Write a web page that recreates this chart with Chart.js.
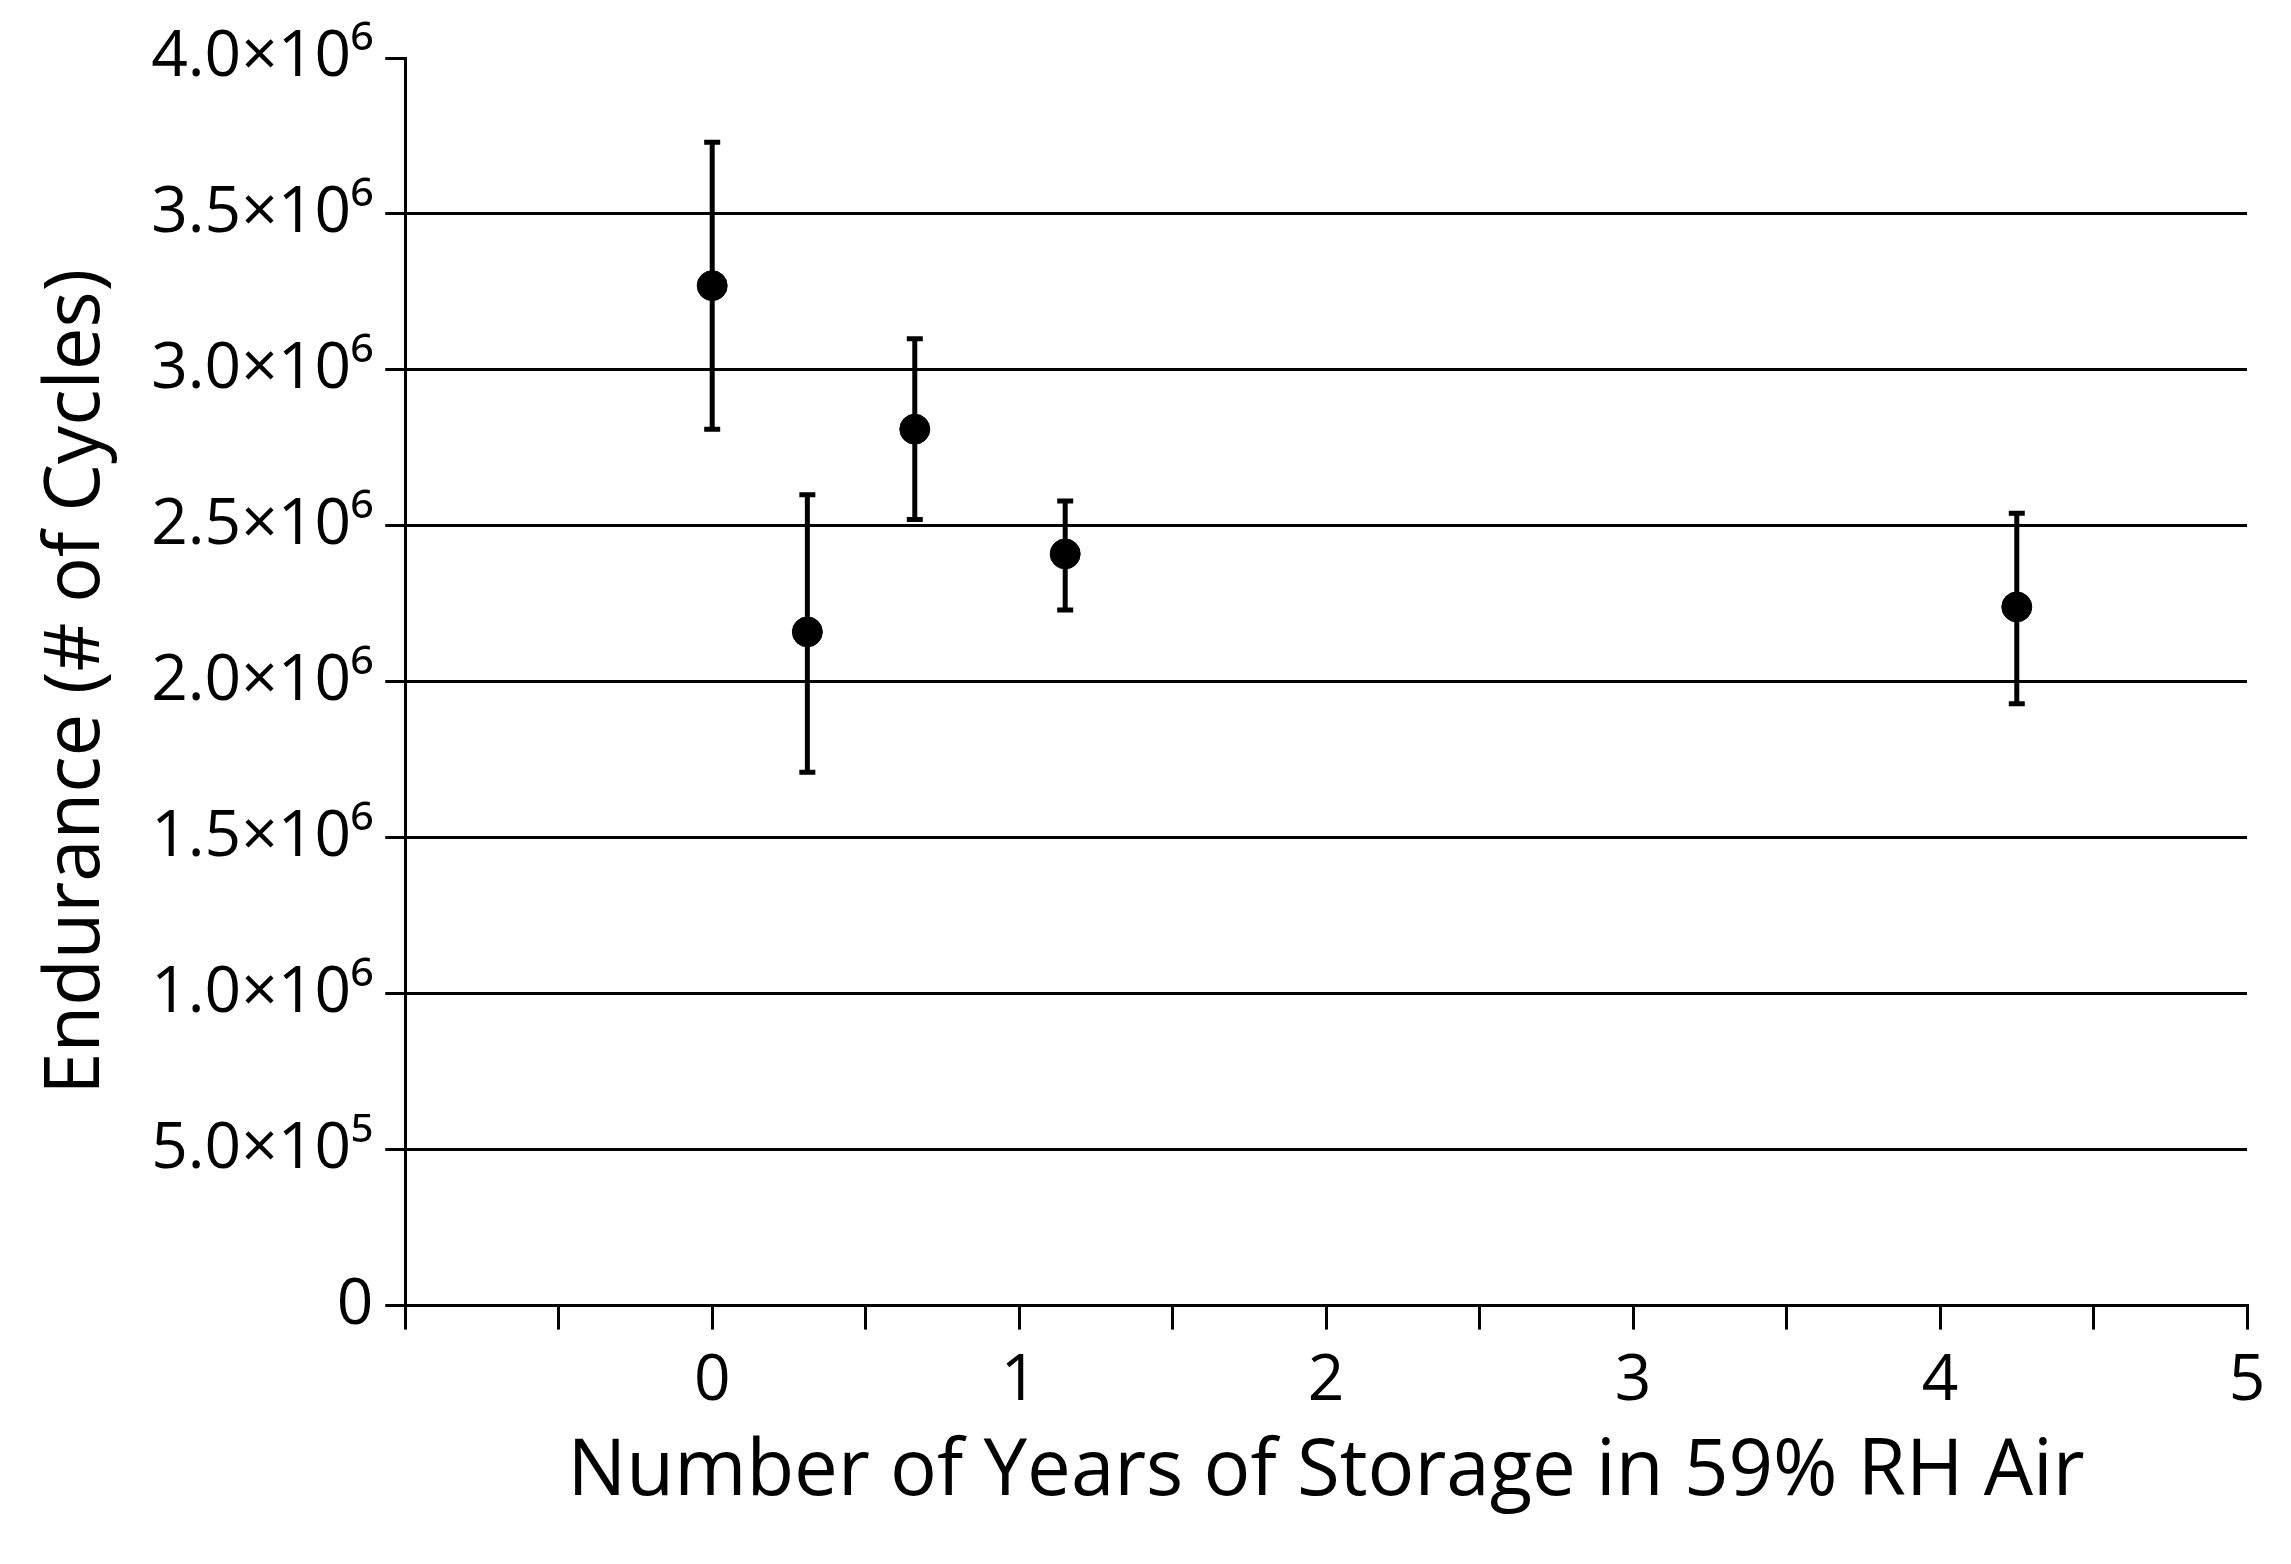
<!DOCTYPE html>
<html><head><meta charset="utf-8">
<script src="https://cdn.jsdelivr.net/npm/chart.js@4"></script>
<style>body{margin:0;background:#fff}</style>
</head><body>
<canvas id="c" width="2291" height="1564"></canvas>
<script>
const years = [0, 0.31, 0.66, 1.15, 4.25]
const endurance = [3.27e6, 2.16e6, 2.81e6, 2.41e6, 2.24e6]
const errHigh = [3.73e6, 2.60e6, 3.10e6, 2.58e6, 2.54e6]
const errLow = [2.81e6, 1.71e6, 2.52e6, 2.23e6, 1.93e6]
const yLabels = {0: "0", 5e5: "5.0×10⁵", 1e6: "1.0×10⁶", 1.5e6: "1.5×10⁶", 2e6: "2.0×10⁶",
  2.5e6: "2.5×10⁶", 3e6: "3.0×10⁶", 3.5e6: "3.5×10⁶", 4e6: "4.0×10⁶"}

const errorBars = {
  id: "errorBars",
  afterDatasetsDraw(chart) {
    const ctx = chart.ctx, xs = chart.scales.x, ys = chart.scales.y
    ctx.save()
    ctx.strokeStyle = "#000"
    ctx.lineWidth = 5
    years.forEach((x, i) => {
      const px = xs.getPixelForValue(x)
      const t = ys.getPixelForValue(errHigh[i]), b = ys.getPixelForValue(errLow[i])
      ctx.beginPath()
      ctx.moveTo(px, t); ctx.lineTo(px, b)
      ctx.moveTo(px - 8, t); ctx.lineTo(px + 8, t)
      ctx.moveTo(px - 8, b); ctx.lineTo(px + 8, b)
      ctx.stroke()
    })
    ctx.restore()
  }
}

new Chart(document.getElementById("c"), {
  type: "scatter",
  data: {
    datasets: [{
      data: years.map((x, i) => ({x: x, y: endurance[i]})),
      backgroundColor: "#000", borderColor: "#000", pointRadius: 15
    }]
  },
  options: {
    responsive: false, animation: false,
    layout: {padding: {top: 58, right: 44, bottom: 40, left: 28}},
    plugins: {legend: {display: false}, tooltip: {enabled: false}},
    scales: {
      x: {
        min: -1, max: 5,
        border: {color: "#000", width: 3},
        grid: {drawOnChartArea: false, tickColor: "#000", tickLength: 24, lineWidth: 3},
        ticks: {stepSize: 0.5, color: "#000", font: {family: "Open Sans", size: 64}, padding: 14,
          autoSkip: false, maxRotation: 0,
          callback: v => (v >= 0 && Number.isInteger(v)) ? String(v) : ""},
        title: {display: true, text: "Number of Years of Storage in 59% RH Air", color: "#000",
          font: {family: "Open Sans", size: 78}, padding: {top: -8}}
      },
      y: {
        min: 0, max: 4e6,
        border: {color: "#000", width: 3},
        grid: {color: c => (c.tick && c.tick.value > 0 && c.tick.value < 4e6) ? "#000" : "rgba(0,0,0,0)",
          tickColor: "#000", tickLength: 20, lineWidth: 3},
        ticks: {stepSize: 5e5, color: "#000", font: {family: "Open Sans", size: 64}, padding: 12,
          callback: v => yLabels[v]},
        title: {display: true, text: "Endurance (# of Cycles)", color: "#000",
          font: {family: "Open Sans", size: 76}, padding: {bottom: 16}}
      }
    }
  },
  plugins: [errorBars]
})
</script>
</body></html>
